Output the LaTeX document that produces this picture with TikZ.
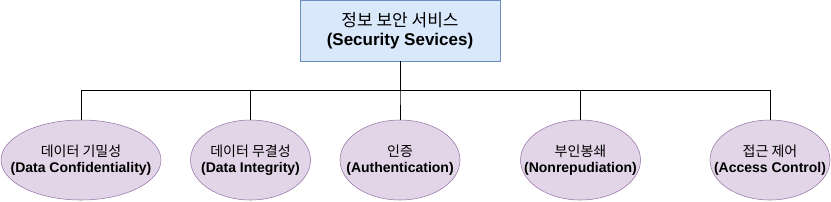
\documentclass[tikz,border=0pt]{standalone}
\usepackage{fontspec}
\setmainfont{Liberation Sans}
\newfontfamily\kr{Noto Sans CJK KR}
\usetikzlibrary{shapes.geometric}
\definecolor{topfill}{HTML}{DAE8FC}
\definecolor{topline}{HTML}{6C8EBF}
\definecolor{goalfill}{HTML}{E1D5E7}
\definecolor{goalline}{HTML}{9673A6}

\begin{document}
\begin{tikzpicture}[
    x=0.75pt, y=-0.75pt,
    topbox/.style={rectangle, draw=topline, fill=topfill, minimum width=150pt, minimum height=45.75pt, inner sep=0pt, align=center, font=\fontsize{12.75}{14.25}\selectfont},
    goal/.style={ellipse, draw=goalline, fill=goalfill, minimum width=90pt, minimum height=60pt, inner sep=0pt},
    goaltext/.style={align=center, inner sep=0pt, font=\fontsize{10.5}{12.4}\selectfont}
]
    \useasboundingbox (0,0) rectangle (831,201);

    \node[topbox] (top) at (400,30.5) {{\kr 정보 보안 서비스}\\\textbf{(Security Sevices)}};
    \coordinate (bus) at (400,90);

    \node[goal, minimum width=120pt] (conf) at (81,160) {};
    \node[goal] (integ) at (250.5,160) {};
    \node[goal] (auth) at (400,160) {};
    \node[goal] (nonrep) at (580.5,160) {};
    \node[goal] (access) at (770,160) {};

    \node[goaltext] (conf-t) at (conf) {{\kr 데이터 기밀성}\\\textbf{(Data Confidentiality)}};
    \node[goaltext] (integ-t) at (integ) {{\kr 데이터 무결성}\\\textbf{(Data Integrity)}};
    \node[goaltext] (auth-t) at (auth) {{\kr 인증}\\\textbf{(Authentication)}};
    \node[goaltext] (nonrep-t) at (nonrep) {{\kr 부인봉쇄}\\\textbf{(Nonrepudiation)}};
    \node[goaltext] (access-t) at (access) {{\kr 접근 제어}\\\textbf{(Access Control)}};

    \foreach \n in {conf,integ,auth,nonrep,access}
        \draw[-] (top.south) -- (bus) -| (\n.north);
\end{tikzpicture}
\end{document}
